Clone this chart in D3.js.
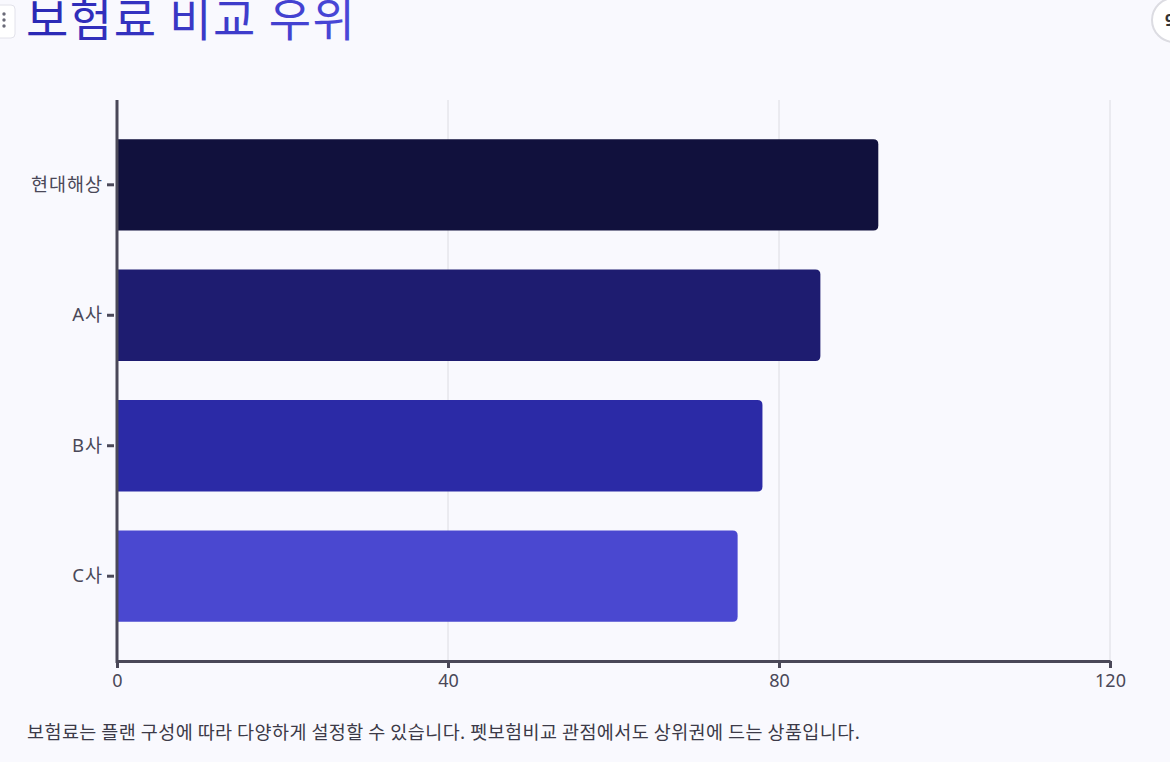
<!DOCTYPE html>
<html><head><meta charset="utf-8">
<script src="https://cdn.jsdelivr.net/npm/d3@7/dist/d3.min.js"></script>
<style>
html,body{margin:0;padding:0;background:#f9f9fe;overflow:hidden;}
svg{display:block;font-family:"Noto Sans","Noto Sans CJK KR",sans-serif;}
</style></head>
<body>
<svg id="c" width="1170" height="762"></svg>
<script>
const categories = ["현대해상", "A사", "B사", "C사"];
const values = [92, 85, 78, 75];
const barColors = ["#11113d", "#1e1c70", "#2b2aa6", "#4a48d0"];
const xTicks = [0, 40, 80, 120];
const titleText = "보험료 비교 우위";
const footerText = "보험료는 플랜 구성에 따라 다양하게 설정할 수 있습니다. 펫보험비교 관점에서도 상위권에 드는 상품입니다.";

const svg = d3.select("#c");
const W = 1170, H = 762;
const m = {left:117, right:60, top:100, bottom:101};

const defs = svg.append("defs");
const g1 = defs.append("linearGradient").attr("id","tg").attr("x1","0").attr("x2","1").attr("y1","0").attr("y2","0");
g1.append("stop").attr("offset","0%").attr("stop-color","#2a28b4");
g1.append("stop").attr("offset","100%").attr("stop-color","#4a48d8");

svg.append("rect").attr("width",W).attr("height",H).attr("fill","#f9f9fe");

// decorations
svg.append("rect").attr("x",-6).attr("y",5).attr("width",21).attr("height",33).attr("rx",4)
  .attr("fill","#ffffff").attr("stroke","#e2e2ea");
[14,20,26].forEach(y=>svg.append("circle").attr("cx",4).attr("cy",y).attr("r",1.7).attr("fill","#6a6a78"));
svg.append("circle").attr("cx",1174).attr("cy",20).attr("r",22).attr("fill","#ffffff").attr("stroke","#dcdce2").attr("stroke-width",2);
svg.append("text").attr("x",1165).attr("y",26).attr("font-size",16).attr("font-weight",700).attr("fill","#333").text("9");

// title
svg.append("text").attr("x",26).attr("y",36).attr("font-size",46).attr("letter-spacing",1.5)
  .attr("font-family","'Noto Sans CJK KR',sans-serif").attr("fill","url(#tg)").text(titleText);

const x = d3.scaleLinear().domain([0,120]).range([m.left, W - m.right]);
const y = d3.scaleBand().domain(categories).range([m.top, H - m.bottom]).paddingInner(0.3).paddingOuter(0.3);

// grid
svg.append("g").selectAll("line").data(xTicks.filter(d=>d>0)).join("line")
  .attr("x1",d=>x(d)).attr("x2",d=>x(d)).attr("y1",m.top).attr("y2",H-m.bottom)
  .attr("stroke","#dcdce2").attr("stroke-width",1);

// bars: rounded right corners
const r = 5;
svg.append("g").selectAll("path").data(categories).join("path")
  .attr("fill",(d,i)=>barColors[i])
  .attr("d",(d,i)=>{
    const x0 = x(0)+1, x1 = x(values[i]), y0 = y(d), h = y.bandwidth();
    return `M${x0},${y0}H${x1-r}Q${x1},${y0} ${x1},${y0+r}V${y0+h-r}Q${x1},${y0+h} ${x1-r},${y0+h}H${x0}Z`;
  });

const axisColor = "#4a4858";
// x axis
const xa = svg.append("g").attr("transform",`translate(0,${H-m.bottom})`)
  .call(d3.axisBottom(x).tickValues(xTicks).tickSize(7).tickSizeOuter(0).tickPadding(6));
xa.select(".domain").attr("stroke",axisColor).attr("stroke-width",3);
xa.selectAll(".tick line").attr("stroke",axisColor).attr("stroke-width",3);
xa.selectAll(".tick text").attr("fill",axisColor).attr("font-size",18)
  .attr("font-family","'Noto Sans',sans-serif");

// y axis
const ya = svg.append("g").attr("transform",`translate(${m.left},0)`)
  .call(d3.axisLeft(y).tickSize(8).tickSizeOuter(0).tickPadding(6));
ya.select(".domain").attr("stroke",axisColor).attr("stroke-width",3)
  .attr("d",`M0,${m.top}V${H-m.bottom+2}`);
ya.selectAll(".tick line").attr("stroke",axisColor).attr("stroke-width",3).attr("x2",-10).attr("x1",-3);
ya.selectAll(".tick text").attr("fill",axisColor).attr("font-size",18.5).attr("letter-spacing",1)
  .attr("font-family","'Noto Sans','Noto Sans CJK KR',sans-serif");

// footer
svg.append("text").attr("x",27).attr("y",739).attr("font-size",18.5).attr("letter-spacing",0.42)
  .attr("font-family","'Noto Sans CJK KR',sans-serif").attr("fill","#3c3a48").text(footerText);
</script>
</body></html>
